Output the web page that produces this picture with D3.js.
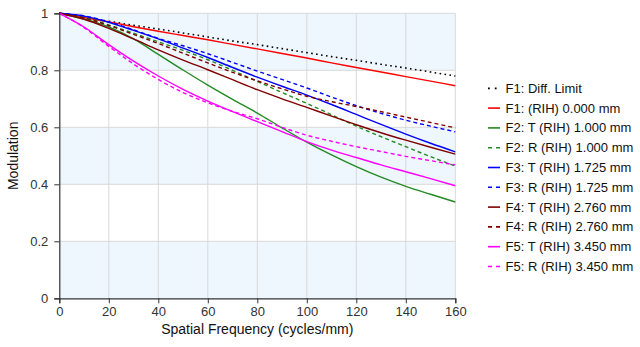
<!DOCTYPE html>
<html><head><meta charset="utf-8">
<script src="https://cdn.jsdelivr.net/npm/d3@7"></script>
<style>body{margin:0;background:#fff;} svg{display:block;font-family:"Liberation Sans",Arial,sans-serif;}</style>
</head><body><svg id="c" width="640" height="347"></svg>
<script>
const freqs = [0,10,20,30,40,50,60,70,80,90,100,110,120,130,140,150,160];
const diffLimit = [1,0.986,0.972,0.958,0.945,0.931,0.917,0.903,0.890,0.876,0.862,0.848,0.835,0.821,0.808,0.794,0.780];
const f1 = [1,0.985,0.970,0.953,0.937,0.922,0.907,0.891,0.875,0.859,0.843,0.826,0.810,0.794,0.778,0.762,0.746];
const f2T = [1,0.980,0.952,0.910,0.856,0.801,0.748,0.698,0.650,0.598,0.548,0.503,0.462,0.425,0.393,0.365,0.338];
const f2R = [1,0.986,0.959,0.930,0.900,0.870,0.837,0.800,0.761,0.722,0.684,0.644,0.604,0.567,0.532,0.497,0.464];
const f3T = [1,0.990,0.968,0.940,0.910,0.878,0.845,0.810,0.776,0.744,0.713,0.680,0.645,0.610,0.576,0.544,0.514];
const f3R = [1,0.991,0.970,0.942,0.912,0.886,0.858,0.828,0.797,0.768,0.738,0.706,0.676,0.649,0.625,0.604,0.584];
const f4T = [1,0.979,0.947,0.910,0.872,0.836,0.802,0.767,0.732,0.700,0.670,0.639,0.609,0.581,0.555,0.530,0.506];
const f4R = [1,0.984,0.957,0.926,0.894,0.860,0.826,0.793,0.763,0.735,0.709,0.690,0.673,0.655,0.636,0.617,0.598];
const f5T = [1,0.952,0.890,0.832,0.780,0.733,0.692,0.655,0.620,0.585,0.550,0.520,0.494,0.468,0.444,0.420,0.395];
const f5R = [1,0.950,0.884,0.822,0.768,0.722,0.686,0.656,0.630,0.600,0.572,0.551,0.532,0.515,0.498,0.483,0.468];
const seriesNames = ["F1: Diff. Limit","F1: (RIH) 0.000 mm","F2: T (RIH) 1.000 mm","F2: R (RIH) 1.000 mm","F3: T (RIH) 1.725 mm","F3: R (RIH) 1.725 mm","F4: T (RIH) 2.760 mm","F4: R (RIH) 2.760 mm","F5: T (RIH) 3.450 mm","F5: R (RIH) 3.450 mm"];
const seriesValues = [diffLimit,f1,f2T,f2R,f3T,f3R,f4T,f4R,f5T,f5R];
const colors = ["#000000","#ff0000","#228b22","#228b22","#0000ff","#0000ff","#800000","#800000","#ff00ff","#ff00ff"];
const dashes = ["1.6,3.4",null,null,"4,3",null,"4,3",null,"4,3",null,"4,3"];
const xTicks = [0,20,40,60,80,100,120,140,160];
const yTicks = [0,0.2,0.4,0.6,0.8,1];

const svg = d3.select("#c");
const L=59.3,R=455.3,T=13.3,B=298.3;
const x = d3.scaleLinear().domain([0,160]).range([L,R]);
const y = d3.scaleLinear().domain([0,1]).range([B,T]);

const bands=[[0,0.2],[0.4,0.6],[0.8,1]];
svg.selectAll("rect.band").data(bands).enter().append("rect")
  .attr("x",L).attr("width",R-L).attr("y",d=>y(d[1])).attr("height",d=>y(d[0])-y(d[1]))
  .attr("fill","#eef6fe");
svg.append("g").selectAll("line").data(xTicks.slice(1)).enter().append("line")
  .attr("x1",d=>x(d)).attr("x2",d=>x(d)).attr("y1",T).attr("y2",B).attr("stroke","#d9d9d9").attr("stroke-width",1);
svg.append("g").selectAll("line").data(yTicks.slice(1)).enter().append("line")
  .attr("x1",L).attr("x2",R).attr("y1",d=>y(d)).attr("y2",d=>y(d)).attr("stroke","#d9d9d9").attr("stroke-width",1);

const line = d3.line().x((d,i)=>x(freqs[i])).y(d=>y(d)).curve(d3.curveMonotoneX);
seriesValues.forEach((vals,k)=>{
  svg.append("path").datum(vals).attr("d",line).attr("fill","none")
    .attr("stroke",colors[k]).attr("stroke-width",k===0?1.6:1.4)
    .attr("stroke-dasharray",dashes[k]);
});

const xa = svg.append("g").attr("transform",`translate(0,${B})`)
  .call(d3.axisBottom(x).tickValues(xTicks).tickFormat(d3.format("d")).tickSizeOuter(0).tickSize(5).tickPadding(3));
const ya = svg.append("g").attr("transform",`translate(${L},0)`)
  .call(d3.axisLeft(y).tickValues(yTicks).tickFormat(d=>d===0?"0":d===1?"1":d3.format(".1f")(d)).tickSizeOuter(0).tickSize(5).tickPadding(6));
[xa,ya].forEach(a=>{
  a.select(".domain").attr("stroke","#333").attr("stroke-width",1.2);
  a.selectAll(".tick line").attr("stroke","#333");
  a.selectAll("text").attr("font-size",13).attr("fill","#333").attr("font-family","Liberation Sans, Arial, sans-serif");
});

svg.append("text").attr("x",(L+R)/2).attr("y",334).attr("text-anchor","middle")
  .attr("font-size",14).attr("fill","#111").text("Spatial Frequency (cycles/mm)");
svg.append("text").attr("transform",`translate(18,${(T+B)/2}) rotate(-90)`).attr("text-anchor","middle")
  .attr("font-size",14).attr("fill","#111").text("Modulation");

const lg = svg.append("g");
seriesNames.forEach((n,k)=>{
  const yy = 88.3 + k*19.8;
  lg.append("line").attr("x1",488).attr("x2",500).attr("y1",yy).attr("y2",yy)
    .attr("stroke",colors[k]).attr("stroke-width",k===0?1.8:1.6)
    .attr("stroke-dasharray",k===0?"1.8,5":(dashes[k]?"4,4":null));
  lg.append("text").attr("x",505.5).attr("y",yy+4.5).attr("font-size",13).attr("fill","#111").text(n);
});
</script></body></html>
